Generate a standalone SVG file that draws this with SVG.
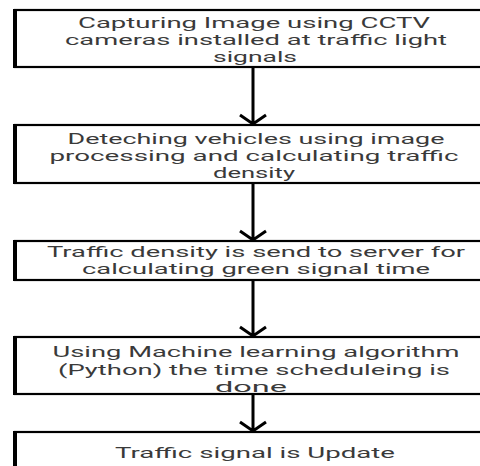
<svg xmlns="http://www.w3.org/2000/svg" width="480" height="466" viewBox="0 0 480 466">
<style>
.box{fill:#fff;stroke:#000;stroke-width:2.2}
.edge{stroke:#000;stroke-width:4}
.t{font-family:Roboto,"Liberation Sans",sans-serif;font-size:15px;fill:#3a3a3a;text-anchor:middle}
.c{stroke:#000;stroke-width:3;fill:none}
</style>
<rect width="480" height="466" fill="#fff"/>
<g id="connectors">
<path class="c" d="M253,68V124M240,115L253,124L266,115"/>
<path class="c" d="M253,184V240M240,231L253,240L266,231"/>
<path class="c" d="M253,281V336M240,327L253,336L266,327"/>
<path class="c" d="M253,395V431M240,422L253,431L266,422"/>
</g>
<g id="n1">
<rect class="box" x="15" y="10" width="475" height="57"/>
<line class="edge" x1="15" y1="9" x2="15" y2="68"/>
<text class="t" x="254" y="28" textLength="352" lengthAdjust="spacingAndGlyphs">Capturing Image using CCTV</text>
<text class="t" x="256" y="45" textLength="382" lengthAdjust="spacingAndGlyphs">cameras installed at traffic light</text>
<text class="t" x="255" y="62" textLength="84" lengthAdjust="spacingAndGlyphs">signals</text>
</g>
<g id="n2">
<rect class="box" x="15" y="125" width="475" height="58"/>
<line class="edge" x1="15" y1="124" x2="15" y2="184"/>
<text class="t" x="256" y="144" textLength="377" lengthAdjust="spacingAndGlyphs">Deteching vehicles using image</text>
<text class="t" x="254" y="161" textLength="409" lengthAdjust="spacingAndGlyphs">processing and calculating traffic</text>
<text class="t" x="254" y="178" textLength="82" lengthAdjust="spacingAndGlyphs">density</text>
</g>
<g id="n3">
<rect class="box" x="15" y="241" width="475" height="39"/>
<line class="edge" x1="15" y1="240" x2="15" y2="281"/>
<text class="t" x="256" y="257" textLength="418" lengthAdjust="spacingAndGlyphs">Traffic density is send to server for</text>
<text class="t" x="256" y="274" textLength="348" lengthAdjust="spacingAndGlyphs">calculating green signal time</text>
</g>
<g id="n4">
<rect class="box" x="15" y="337" width="475" height="57"/>
<line class="edge" x1="15" y1="336" x2="15" y2="395"/>
<text class="t" x="256" y="357" textLength="407" lengthAdjust="spacingAndGlyphs">Using Machine learning algorithm</text>
<text class="t" x="254" y="375" textLength="392" lengthAdjust="spacingAndGlyphs">(Python) the time scheduleing is</text>
<text class="t" x="251" y="392" textLength="72" lengthAdjust="spacingAndGlyphs">done</text>
</g>
<g id="n5">
<rect class="box" x="15" y="432" width="475" height="50"/>
<line class="edge" x1="15" y1="431" x2="15" y2="470"/>
<text class="t" x="255" y="458" textLength="280" lengthAdjust="spacingAndGlyphs">Traffic signal is Update</text>
</g>
</svg>
